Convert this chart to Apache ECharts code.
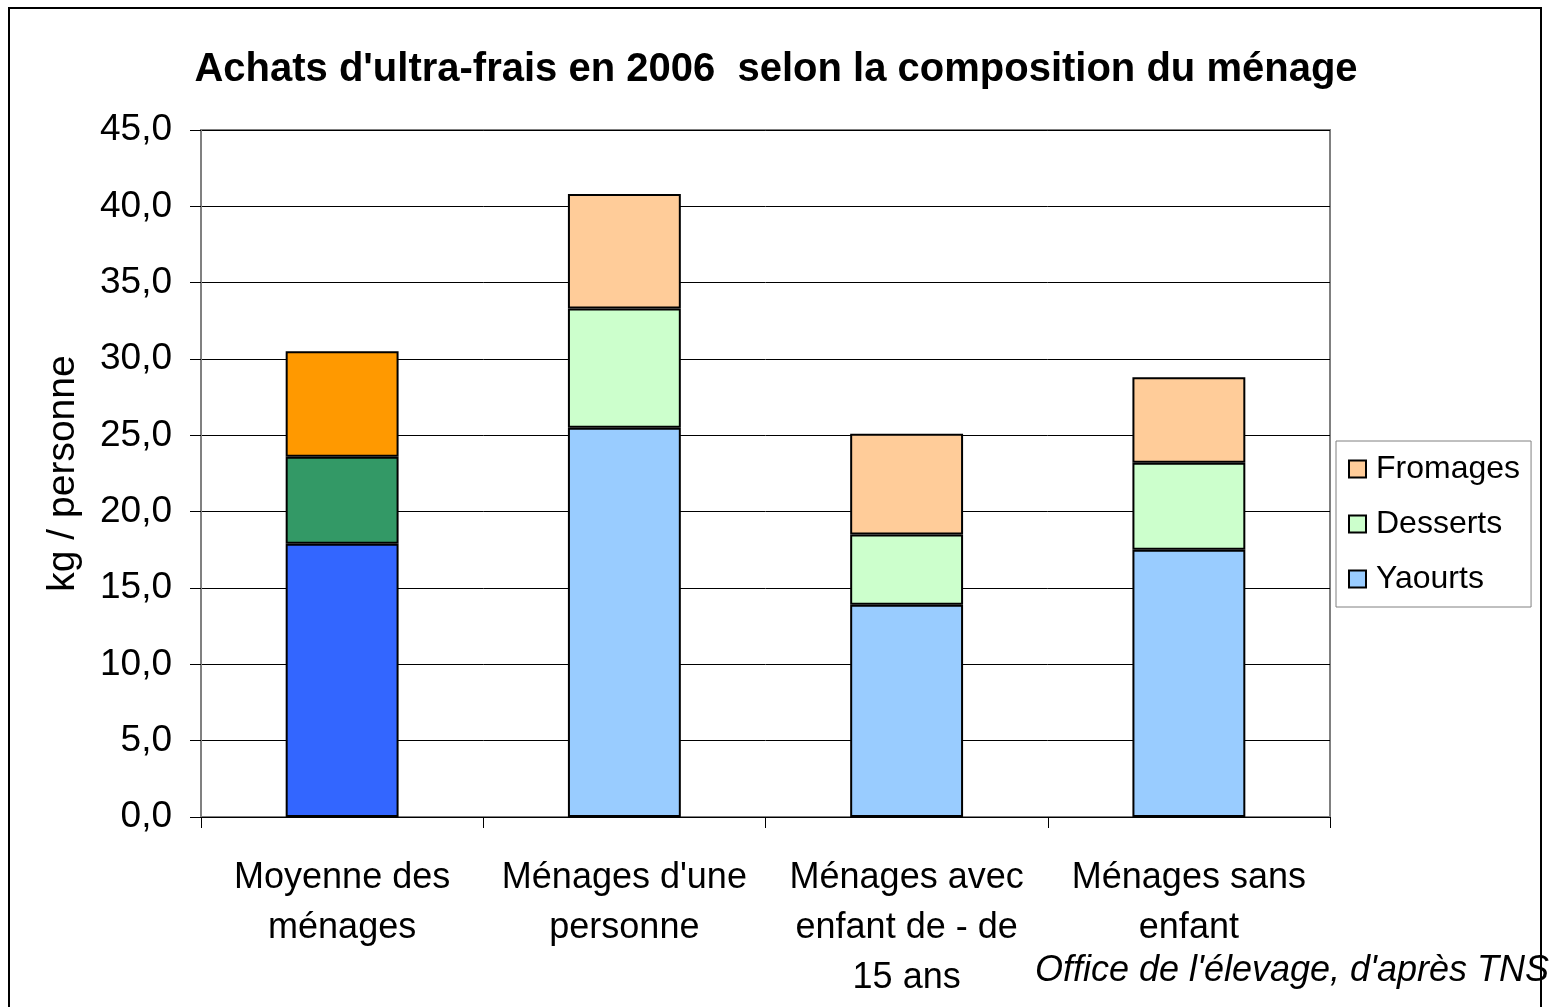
<!DOCTYPE html>
<html>
<head>
<meta charset="utf-8">
<script src="https://cdn.jsdelivr.net/npm/echarts@6/dist/echarts.min.js"></script>
<style>
  html, body { margin: 0; padding: 0; background: #fff; }
  #main { width: 1552px; height: 1007px; }
</style>
</head>
<body>
<div id="main"></div>
<script>
// données (kg / personne)
const categories = ['Moyenne des\nménages', "Ménages d'une\npersonne", 'Ménages avec\nenfant de - de\n15 ans', 'Ménages sans\nenfant'];
const yaourts = [17.9, 25.5, 13.9, 17.5];
const desserts = [5.7, 7.8, 4.6, 5.7];
const fromages = [6.9, 7.5, 6.6, 5.6];
const yTicks = [0, 45, 5]; // min, max, interval

// la barre "Moyenne" a des couleurs plus foncées
const darkColors = { Yaourts: '#3366FF', Desserts: '#339966', Fromages: '#FF9900' };

const font = 'Liberation Sans, Arial, sans-serif';

function makeSeries(name, values, color) {
   return {
      name: name,
      type: 'bar',
      stack: 'total',
      barWidth: '40%',
      itemStyle: { color: color, borderColor: '#000', borderWidth: 2 },
      data: values.map(function (v, i) {
         if (i === 0) return { value: v, itemStyle: { color: darkColors[name] } };
         return v;
      })
   };
}

let myChart = echarts.init(document.getElementById('main'));

myChart.setOption({
   animation: false,
   textStyle: { fontFamily: font },
   title: {
      text: "Achats d'ultra-frais en 2006  selon la composition du ménage",
      left: 'center',
      top: 45,
      textStyle: { fontFamily: font, fontSize: 40, fontWeight: 'bold', color: '#000' }
   },
   legend: {
      orient: 'vertical',
      left: 1336,
      top: 441,
      data: ['Fromages', 'Desserts', 'Yaourts'],
      icon: 'rect',
      itemWidth: 17,
      itemHeight: 17,
      itemGap: 23,
      padding: [12, 11, 12, 12],
      borderColor: '#808080',
      borderWidth: 1,
      itemStyle: { borderColor: '#000', borderWidth: 2 },
      textStyle: { fontFamily: font, fontSize: 32, color: '#000', lineHeight: 32, padding: [0, 0, 0, 5] }
   },
   grid: {
      left: 201,
      right: 222,
      top: 130,
      bottom: 190,
      show: true,
      borderColor: '#808080',
      borderWidth: 2
   },
   xAxis: {
      type: 'category',
      data: categories,
      axisLine: { lineStyle: { color: '#000', width: 1 } },
      axisTick: { show: true, length: 11, lineStyle: { color: '#000' } },
      axisLabel: {
         interval: 0,
         margin: 36,
         fontSize: 36,
         lineHeight: 50,
         color: '#000',
         fontFamily: font
      }
   },
   yAxis: {
      type: 'value',
      min: yTicks[0],
      max: yTicks[1],
      interval: yTicks[2],
      name: 'kg / personne',
      nameLocation: 'middle',
      nameGap: 118,
      nameTextStyle: { fontSize: 39, color: '#000', fontFamily: font },
      axisLine: { show: true, lineStyle: { color: '#808080', width: 2 } },
      axisTick: { show: true, length: 11, lineStyle: { color: '#000' } },
      axisLabel: {
         margin: 29,
         fontSize: 37,
         color: '#000',
         fontFamily: font,
         formatter: function (v) { return v.toFixed(1).replace('.', ','); }
      },
      splitLine: { show: true, lineStyle: { color: '#000', width: 1 } }
   },
   graphic: [
      {
         type: 'rect',
         shape: { x: 9, y: 8, width: 1532, height: 1010 },
         style: { fill: 'none', stroke: '#000', lineWidth: 2 },
         silent: true
      },
      {
         type: 'text',
         right: 3,
         top: 953,
         style: {
            text: "Office de l'élevage, d'après TNS",
            font: 'italic 36px ' + font,
            fill: '#000'
         }
      }
   ],
   series: [
      makeSeries('Yaourts', yaourts, '#99CCFF'),
      makeSeries('Desserts', desserts, '#CCFFCC'),
      makeSeries('Fromages', fromages, '#FFCC99')
   ]
});
</script>
</body>
</html>
